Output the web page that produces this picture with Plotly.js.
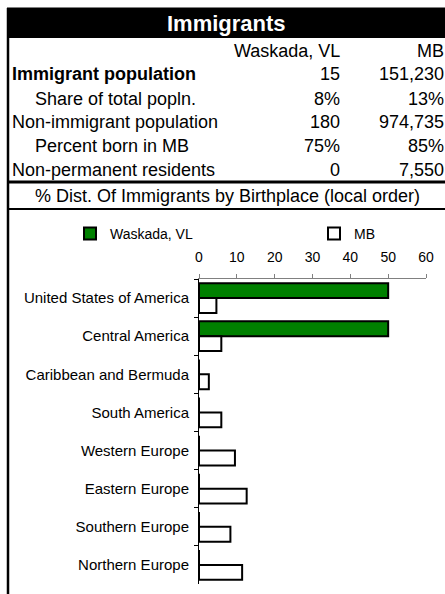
<!DOCTYPE html>
<html>
<head>
<meta charset="utf-8">
<script src="https://cdn.plot.ly/plotly-3.0.1.min.js"></script>
<style>html,body{margin:0;padding:0;background:#fff;}#chart{width:445px;height:594px;}</style>
</head>
<body>
<div id="chart"></div>
<script>
// ---- data ----
const chartTitle = "Immigrants";
const colHeaders = ["Waskada, VL", "MB"];
const rowLabels = ["Immigrant population", "Share of total popln.", "Non-immigrant population", "Percent born in MB", "Non-permanent residents"];
const localVals = ["15", "8%", "180", "75%", "0"];
const mbVals = ["151,230", "13%", "974,735", "85%", "7,550"];
const sectionTitle = "% Dist. Of Immigrants by Birthplace (local order)";
const categories = ["United States of America", "Central America", "Caribbean and Bermuda", "South America", "Western Europe", "Eastern Europe", "Southern Europe", "Northern Europe"];
const localPct = [50, 50, 0, 0, 0, 0, 0, 0];
const mbPct = [4.6, 5.9, 2.6, 5.9, 9.5, 12.6, 8.3, 11.4];
const xTicks = [0, 10, 20, 30, 40, 50, 60];

// ---- layout helpers ----
const W = 445, H = 594;
const M = {l: 199, r: 19, t: 279, b: 10};
const PW = W - M.l - M.r, PH = H - M.t - M.b;
const px = x => (x - M.l) / PW;
const py = y => 1 - (y - M.t) / PH;
const FONT = "Liberation Sans, Arial, sans-serif";

const boldRows = [0];
const indentRows = [1, 3];
const rowY = [74.5, 98.5, 122, 146, 169.5];

const annotations = [];
annotations.push({text: "<b>" + chartTitle + "</b>", x: px(226), y: py(23), xref: "paper", yref: "paper",
  xanchor: "center", yanchor: "middle", showarrow: false, font: {family: FONT, size: 22, color: "#fff"}});
annotations.push({text: colHeaders[0], x: px(341), y: py(51), xref: "paper", yref: "paper",
  xanchor: "right", yanchor: "middle", showarrow: false, borderpad: 0, font: {family: FONT, size: 18, color: "#000"}});
annotations.push({text: colHeaders[1], x: px(445), y: py(51), xref: "paper", yref: "paper",
  xanchor: "right", yanchor: "middle", showarrow: false, borderpad: 0, font: {family: FONT, size: 18, color: "#000"}});
rowLabels.forEach((lab, i) => {
  const bold = boldRows.includes(i);
  annotations.push({text: bold ? "<b>" + lab + "</b>" : lab, x: px(indentRows.includes(i) ? 34 : 11), y: py(rowY[i]),
    xref: "paper", yref: "paper", xanchor: "left", yanchor: "middle", showarrow: false, borderpad: 0,
    font: {family: FONT, size: 18, color: "#000"}});
  annotations.push({text: localVals[i], x: px(341), y: py(rowY[i]), xref: "paper", yref: "paper",
    xanchor: "right", yanchor: "middle", showarrow: false, borderpad: 0, font: {family: FONT, size: 18, color: "#000"}});
  annotations.push({text: mbVals[i], x: px(445), y: py(rowY[i]), xref: "paper", yref: "paper",
    xanchor: "right", yanchor: "middle", showarrow: false, borderpad: 0, font: {family: FONT, size: 18, color: "#000"}});
});
annotations.push({text: sectionTitle, x: px(227), y: py(195.5), xref: "paper", yref: "paper",
  xanchor: "center", yanchor: "middle", showarrow: false, borderpad: 0, font: {family: FONT, size: 18, color: "#000"}});

const shapes = [
  {type: "rect", xref: "paper", yref: "paper", x0: px(7), x1: px(446), y0: py(7.5), y1: py(38), fillcolor: "#000", line: {width: 0}},
  {type: "line", xref: "paper", yref: "paper", x0: px(8), x1: px(8), y0: py(8), y1: py(595), line: {color: "#000", width: 2.5}},
  {type: "line", xref: "paper", yref: "paper", x0: px(7), x1: px(446), y0: py(182), y1: py(182), line: {color: "#000", width: 3}},
  {type: "line", xref: "paper", yref: "paper", x0: px(7), x1: px(446), y0: py(209), y1: py(209), line: {color: "#000", width: 2}}
];

const traces = [
  {type: "bar", orientation: "h", name: colHeaders[0], y: categories, x: localPct,
   marker: {color: "#008000", line: {color: "#000", width: 2}}, legend: "legend", hoverinfo: "x+y"},
  {type: "bar", orientation: "h", name: colHeaders[1], y: categories, x: mbPct,
   marker: {color: "#ffffff", line: {color: "#000", width: 2}}, legend: "legend2", hoverinfo: "x+y"}
];

const layout = {
  width: W, height: H,
  margin: M,
  paper_bgcolor: "#fff", plot_bgcolor: "#fff",
  font: {family: FONT, color: "#000"},
  barmode: "group", bargap: 0.22, bargroupgap: 0,
  xaxis: {side: "top", range: [0, 60], tickvals: xTicks, ticktext: xTicks.map(String),
    ticks: "outside", ticklen: 4, tickcolor: "#808080", showline: true, linecolor: "#808080", linewidth: 1,
    showgrid: false, zeroline: false, tickfont: {family: FONT, size: 14, color: "#000"}, ticklabelstandoff: 6, fixedrange: true},
  yaxis: {type: "category", categoryarray: categories, autorange: "reversed", ticks: "outside", tickson: "boundaries",
    ticklen: 4, tickcolor: "#000", showline: true, linecolor: "#000", linewidth: 1, showgrid: false, zeroline: false,
    tickfont: {family: FONT, size: 15, color: "#000"}, ticklabelstandoff: 6, fixedrange: true},
  showlegend: true,
  legend: {orientation: "h", x: px(70), y: py(234), xanchor: "left", yanchor: "middle", bgcolor: "rgba(0,0,0,0)",
    borderwidth: 0, itemwidth: 30, font: {family: FONT, size: 14, color: "#000"}},
  legend2: {orientation: "h", x: px(314), y: py(234), xanchor: "left", yanchor: "middle", bgcolor: "rgba(0,0,0,0)",
    borderwidth: 0, itemwidth: 30, font: {family: FONT, size: 14, color: "#000"}},
  annotations: annotations,
  shapes: shapes
};

Plotly.newPlot("chart", traces, layout, {displayModeBar: false, staticPlot: true});
</script>
</body>
</html>
